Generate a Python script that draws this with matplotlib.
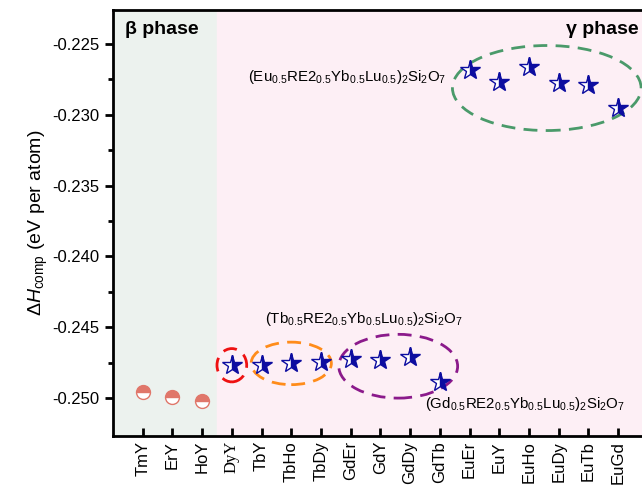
import matplotlib
matplotlib.use('Agg')
from matplotlib import pyplot as plt
from matplotlib.patches import Ellipse

plt.rcParams['font.family'] = ['Liberation Sans', 'DejaVu Sans']
plt.rcParams['mathtext.fontset'] = 'custom'
plt.rcParams['mathtext.rm'] = 'Liberation Sans'
plt.rcParams['mathtext.it'] = 'Liberation Sans:italic'

# 数据
beta_names = ['TmY', 'ErY', 'HoY']
beta_vals = [-0.24956, -0.24991, -0.25021]
gamma_names = ['DyY', 'TbY', 'TbHo', 'TbDy', 'GdEr', 'GdY', 'GdDy', 'GdTb',
               'EuEr', 'EuY', 'EuHo', 'EuDy', 'EuTb', 'EuGd']
gamma_vals = [-0.24767, -0.24767, -0.24755, -0.24748, -0.24727, -0.24732, -0.24708, -0.24885,
              -0.22684, -0.22766, -0.22665, -0.22773, -0.22790, -0.22954]
all_names = beta_names + gamma_names

fig = plt.figure(figsize=(6.42, 4.9), dpi=100)
ax = fig.add_axes([0.176, 0.110, 0.833, 0.870])

ax.axvspan(-1, 2.5, color='#ECF2EE', zorder=0)
ax.axvspan(2.5, 17, color='#FDEFF5', zorder=0)

x_beta = list(range(len(beta_names)))
x_gamma = list(range(len(beta_names), len(all_names)))

ax.plot(x_beta, beta_vals, ls='none', marker='o', ms=10, fillstyle='top',
        color='#E0776A', markerfacecoloralt='white', markeredgecolor='#E0776A',
        markeredgewidth=1.0, zorder=3)
ax.plot(x_gamma, gamma_vals, ls='none', marker='*', ms=15, fillstyle='right',
        color='#0D0DA0', markerfacecoloralt='white', markeredgecolor='#0D0DA0',
        markeredgewidth=1.0, zorder=3)

# 虚线椭圆
ellipses = [
    ((3.0, -0.24768), 1.0, 0.00235, '#EE1111'),
    ((5.0, -0.24755), 2.7, 0.0030, '#FF8C1A'),
    ((8.6, -0.24775), 4.0, 0.0045, '#8B1A8B'),
    ((13.6, -0.22812), 6.35, 0.0060, '#4A9A6A'),
]
for (cx, cy), w, h, col in ellipses:
    ax.add_patch(Ellipse((cx, cy), w, h, fill=False, ec=col, lw=2,
                         ls=(0, (5, 3)), zorder=2))

fs_formula = 10.8
ax.text(3.55, -0.22735, r'(Eu$_{0.5}$RE2$_{0.5}$Yb$_{0.5}$Lu$_{0.5}$)$_2$Si$_2$O$_7$',
        fontsize=fs_formula, ha='left', va='center')
ax.text(4.1, -0.24440, r'(Tb$_{0.5}$RE2$_{0.5}$Yb$_{0.5}$Lu$_{0.5}$)$_2$Si$_2$O$_7$',
        fontsize=fs_formula, ha='left', va='center')
ax.text(9.5, -0.25040, r'(Gd$_{0.5}$RE2$_{0.5}$Yb$_{0.5}$Lu$_{0.5}$)$_2$Si$_2$O$_7$',
        fontsize=fs_formula, ha='left', va='center')

ax.text(-0.6, -0.2240, 'β phase', fontsize=14, fontweight='bold', va='center')
ax.text(14.25, -0.2240, 'γ phase', fontsize=14, fontweight='bold', va='center')

ax.set_xlim(-1, 17)
ax.set_ylim(-0.25268, -0.2226)
ax.set_xticks(range(len(all_names)))
ax.set_xticklabels(all_names, rotation=90, fontsize=12)
for lab in ax.get_xticklabels():
    if lab.get_text() == 'DyY':
        lab.set_fontfamily('Liberation Serif')

ax.set_yticks([-0.250, -0.245, -0.240, -0.235, -0.230, -0.225])
ax.set_yticklabels(['-0.250', '-0.245', '-0.240', '-0.235', '-0.230', '-0.225'], fontsize=12)
ax.set_yticks([-0.2475, -0.2425, -0.2375, -0.2325, -0.2275], minor=True)
ax.tick_params(axis='y', which='major', direction='out', length=6, width=2)
ax.tick_params(axis='y', which='minor', direction='out', length=3.5, width=2)
ax.tick_params(axis='x', which='major', direction='in', length=6, width=2)

ax.set_ylabel(r'$\Delta H_{\rm comp}$ (eV per atom)', fontsize=14, labelpad=2)

for s in ['left', 'bottom', 'top']:
    ax.spines[s].set_linewidth(2)
ax.spines['right'].set_visible(False)

fig.savefig('out.png', dpi=100)
